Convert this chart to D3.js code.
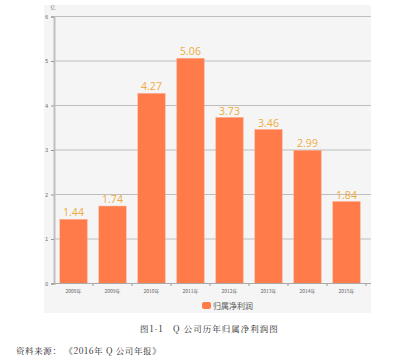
<!DOCTYPE html>
<html><head><meta charset="utf-8">
<script src="https://cdn.jsdelivr.net/npm/d3@7"></script>
<style>body{margin:0;background:#fff}</style>
</head><body>
<svg id="c" width="393" height="361"></svg>
<script>
const categories = ["2008年","2009年","2010年","2011年","2012年","2013年","2014年","2015年"];
const values = [1.44,1.74,4.27,5.06,3.73,3.46,2.99,1.84];
const yTicks = [0,1,2,3,4,5,6];
const seriesName = "归属净利润";
const unit = "亿";
const caption = "图1-1　Q 公司历年归属净利润图";
const source = "资料来源： 《2016年 Q 公司年报》";

const svg = d3.select("#c");
const panel = {x0:44, x1:371, y0:5, y1:313};
svg.append("rect").attr("x",panel.x0).attr("y",panel.y0)
  .attr("width",panel.x1-panel.x0).attr("height",panel.y1-panel.y0).attr("fill","#f5f5f5");

const x = d3.scaleBand().domain(categories).range([54,366]).paddingInner(0.3).paddingOuter(0.15);
const y = d3.scaleLinear().domain([0,6]).range([283.5,16.5]);

// grid
svg.append("g").selectAll("line").data(yTicks.filter(d=>d>0)).join("line")
  .attr("x1",54).attr("x2",371).attr("y1",d=>y(d)).attr("y2",d=>y(d))
  .attr("stroke","#bdbdbd").attr("stroke-width",1);

// y axis
const ya = svg.append("g").attr("transform","translate(54,0)")
  .call(d3.axisLeft(y).tickValues(yTicks).tickSize(3).tickFormat(d3.format("d")));
ya.select(".domain").attr("stroke","#c0c0c0").attr("stroke-width",2);
ya.selectAll(".tick line").attr("stroke","#999");
ya.selectAll("text").attr("fill","#666").style("font-size","5px").style("font-family","Liberation Sans");

svg.append("text").attr("x",53).attr("y",9).attr("text-anchor","middle")
  .attr("fill","#777").style("font-size","5px").style("font-family","Noto Sans CJK SC").text(unit);

// bars
svg.append("g").selectAll("rect").data(values).join("rect")
  .attr("x",(d,i)=>x(categories[i])).attr("width",x.bandwidth())
  .attr("y",d=>y(d)).attr("height",d=>y(0)-y(d))
  .attr("fill","#ff7b4a").attr("stroke","#ffa080").attr("stroke-width",0.5);

svg.append("g").selectAll("text").data(values).join("text")
  .attr("x",(d,i)=>x(categories[i])+x.bandwidth()/2).attr("y",d=>y(d)-3)
  .attr("text-anchor","middle").attr("fill","#eeac3c")
  .style("font-size","10.5px").style("font-family","Open Sans").text(d=>d.toFixed(2));

// x axis
const xa = svg.append("g").attr("transform","translate(0,283.5)")
  .call(d3.axisBottom(x).tickSize(0).tickPadding(6));
xa.select(".domain").remove();
svg.append("line").attr("x1",54).attr("x2",371).attr("y1",283.5).attr("y2",283.5)
  .attr("stroke","#aaa").attr("stroke-width",1.2);
xa.selectAll("text").attr("fill","#666").style("font-size","5px").style("font-family","Noto Sans CJK SC");
svg.append("g").selectAll("line").data(categories).join("line")
  .attr("x1",(d)=>x(d)+x.bandwidth()+x.step()*x.paddingInner()/2)
  .attr("x2",(d)=>x(d)+x.bandwidth()+x.step()*x.paddingInner()/2)
  .attr("y1",283.5).attr("y2",286).attr("stroke","#999");

// legend
svg.append("rect").attr("x",202).attr("y",302).attr("width",9).attr("height",7).attr("rx",2).attr("fill","#ff7b4a");
svg.append("text").attr("x",213).attr("y",308.5).attr("fill","#555")
  .style("font-size","8px").style("font-family","Noto Sans CJK SC").text(seriesName);

// caption
svg.append("text").attr("x",140).attr("y",332).attr("fill","#222")
  .style("font-size","8.5px").style("font-family","Noto Serif CJK SC, Noto Sans CJK SC").style("letter-spacing","1px").text(caption);
svg.append("text").attr("x",16).attr("y",354).attr("fill","#222")
  .style("font-size","8.5px").style("font-family","Noto Serif CJK SC, Noto Sans CJK SC").style("letter-spacing","0.6px").text(source);
</script>
</body></html>
